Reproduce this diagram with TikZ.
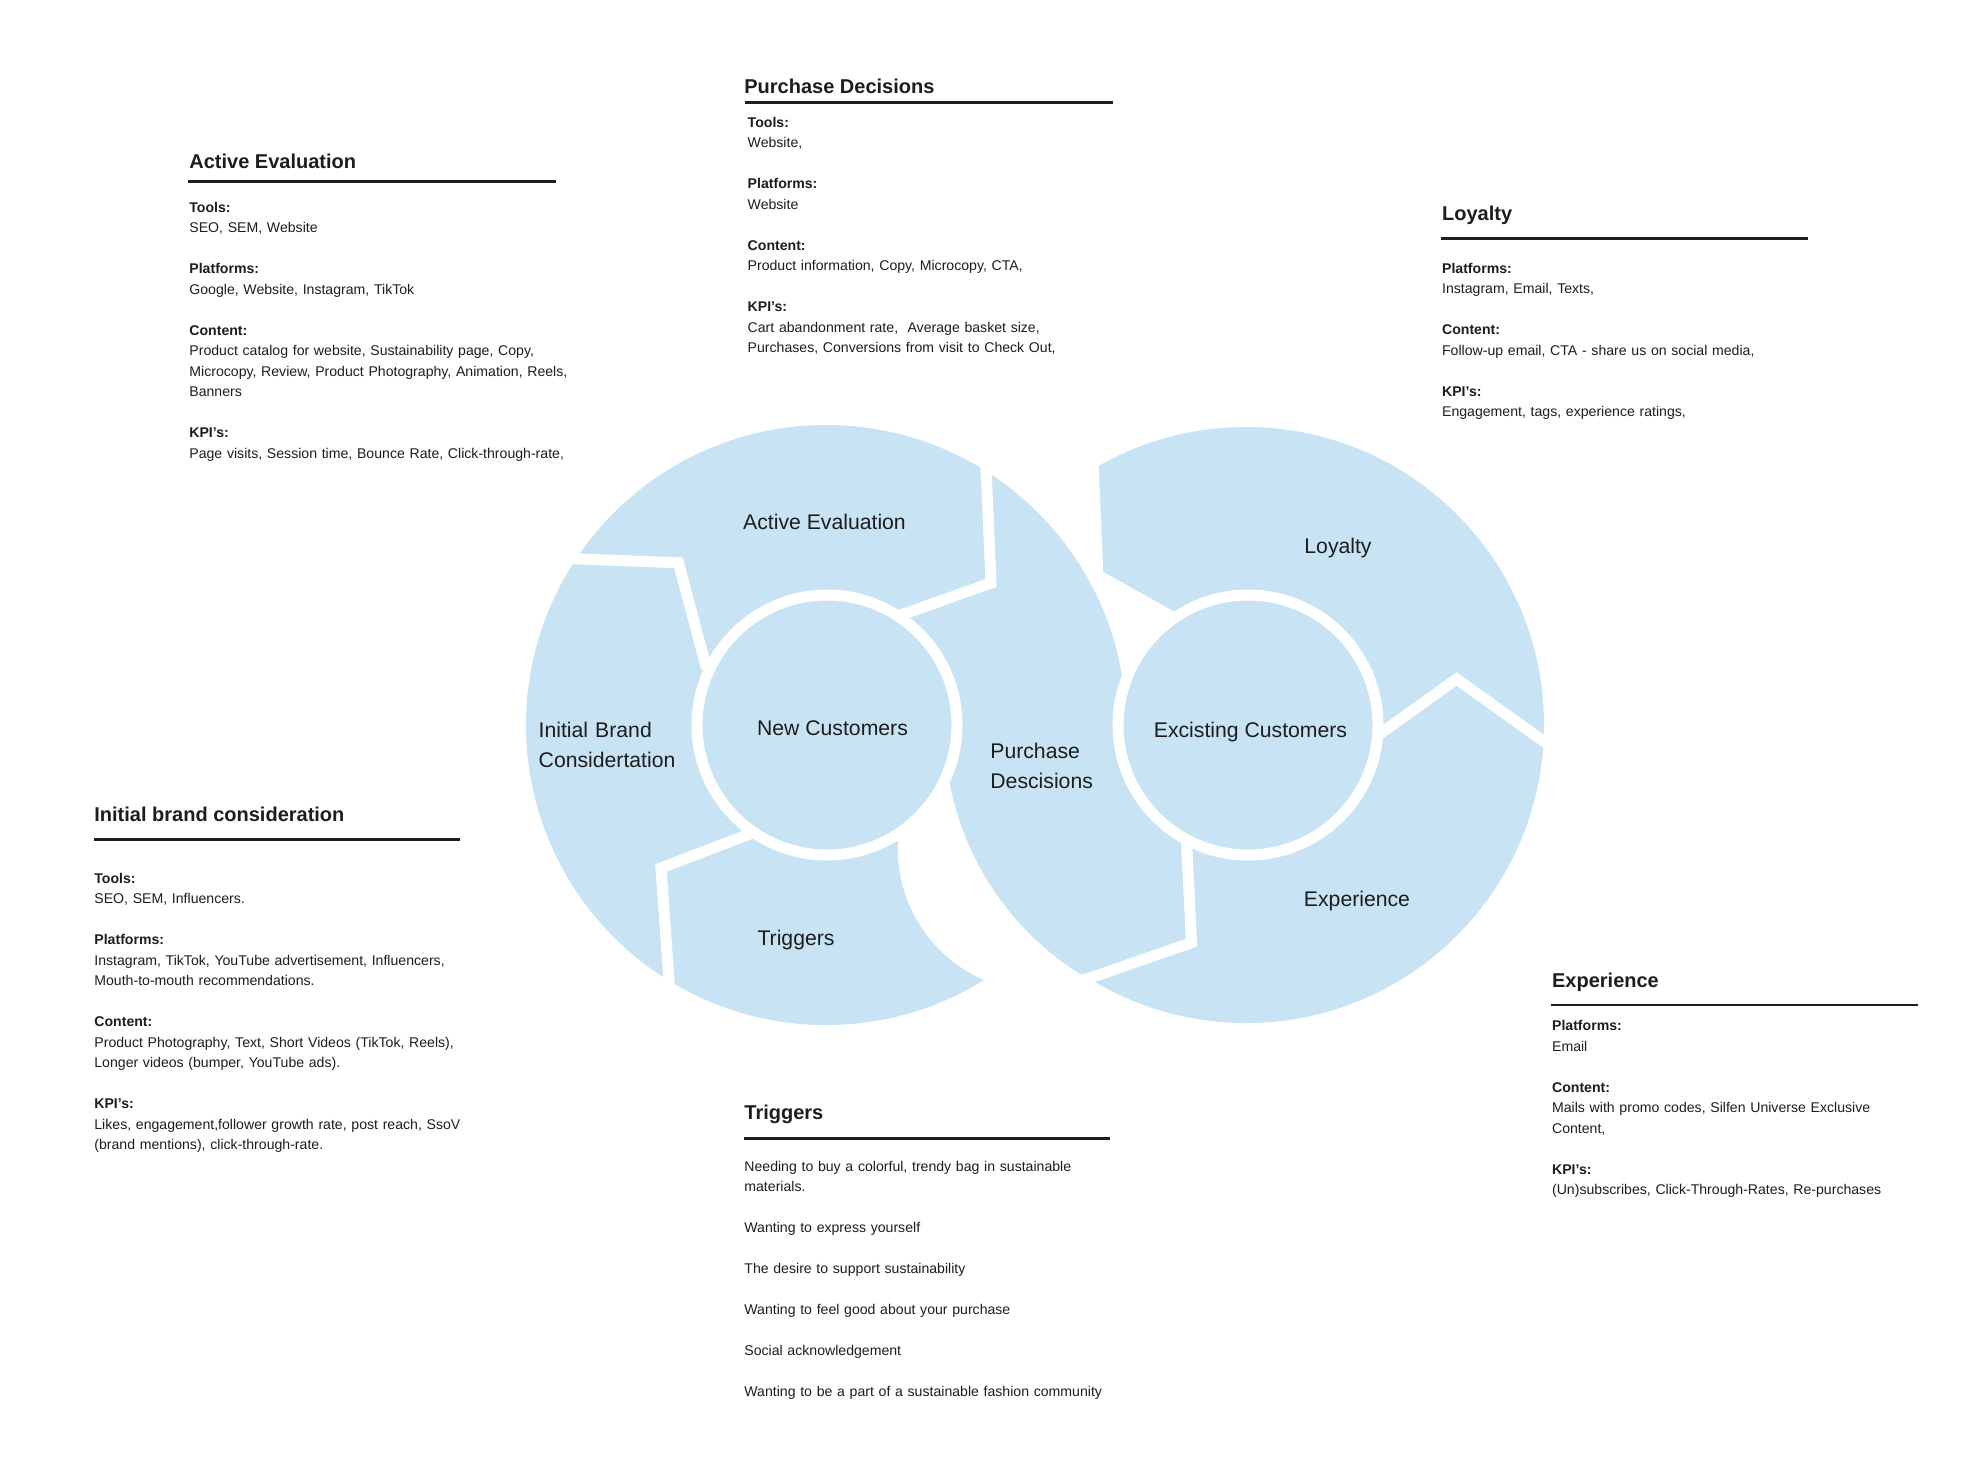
\documentclass[tikz,border=0pt]{standalone}
\usepackage{fontspec}
\setmainfont{Liberation Sans}
\definecolor{segblue}{RGB}{200,227,243}
\definecolor{ink}{RGB}{29,29,29}
\begin{document}
\begin{tikzpicture}[x=0.5pt,y=-0.5pt,
  bodytext/.style={anchor=base west, inner sep=0pt, align=left, text width=260pt, text=ink,
    font=\fontsize{7.05}{10.25}\selectfont},
  headtext/.style={anchor=base west, inner sep=0pt, text=ink, font=\fontsize{10}{12}\selectfont\bfseries},
  seglabel/.style={anchor=base, inner sep=0pt, text=ink, font=\fontsize{10.6}{15}\selectfont},
  seglabelL/.style={seglabel, anchor=base west, align=left, text width=150pt},
  headrule/.style={draw=ink, line width=1.4pt},
  gapline/.style={draw=white, line width=5.5pt, line join=miter, line cap=butt},
  ringline/.style={draw=white, line width=5.5pt},
]
\fill[white] (0,0) rectangle (1970,1479);
\useasboundingbox (0,0) rectangle (1970,1479);

\coordinate (Lc) at (826,725);
\coordinate (Rc) at (1246,725);
\coordinate (Li) at (827,725);
\coordinate (Ri) at (1248,725);

% base discs
\fill[segblue] (Rc) circle[radius=149pt];
% white area left of Loyalty, outside left disc
\fill[white] (1098.5,400) -- (1098.5,463) -- (1103.3,572) -- (1172.5,610.6) -- (Rc) -- (1000,725) -- (1000,400) -- cycle;
\fill[segblue] (Lc) circle[radius=150pt];

% lower-left edge of Purchase Descisions (arc)
\fill[segblue] plot[domain=174:122.2, samples=40] ({1235.3+291*cos(\x)},{728.2+291*sin(\x)})
  -- (1120,900) -- (1000,780) -- cycle;

% white crescent between Triggers and Purchase Descisions
\fill[white] plot[domain=188:110, samples=40] ({1041.3+143.5*cos(\x)},{848.5+143.5*sin(\x)})
  -- (1070,992)
  -- plot[domain=122.2:174, samples=40] ({1235.3+291*cos(\x)},{728.2+291*sin(\x)})
  -- cycle;

% inner discs and rings
\fill[segblue] (Li) circle[radius=62.25pt];
\fill[segblue] (Ri) circle[radius=62.25pt];
\draw[ringline] (Li) circle[radius=65pt];
\draw[ringline] (Ri) circle[radius=65pt];

% gaps between segments
\draw[gapline] (555,558) -- (678.5,562.8) -- (706.5,668.4);
\draw[gapline] (985.5,455) -- (991,583) -- (901,615);
\draw[gapline] (750.7,833.6) -- (661,868) -- (670,995);
\draw[gapline] (1377.6,735.5) -- (1456.6,679) -- (1554,748.7);
\draw[gapline] (1186.55,842.7) -- (1191.5,942.7) -- (1072.8,983.9);

% segment labels
\node[seglabel] (lae) at (824.5,529.5) {Active Evaluation};
\node[seglabel] (lnc) at (832.5,735.3) {New Customers};
\node[seglabelL] (lib) at (538.3,737.5) {Initial Brand\\Considertation};
\node[seglabelL] (lpd) at (990,758.5) {Purchase\\Descisions};
\node[seglabel] (ltr) at (796,945.5) {Triggers};
\node[seglabel] (lly) at (1338,553.5) {Loyalty};
\node[seglabel] (lec) at (1250.5,737.4) {Excisting Customers};
\node[seglabel] (lex) at (1357,906.3) {Experience};

% Active Evaluation block
\node[headtext] (hae) at (189,168.5) {Active Evaluation};
\draw[headrule] (188,181.7) -- (556,181.7);
\node[bodytext] (bae) at (189,212.3) {\textbf{Tools:}\\
SEO, SEM, Website\\[10.25pt]
\textbf{Platforms:}\\
Google, Website, Instagram, TikTok\\[10.25pt]
\textbf{Content:}\\
Product catalog for website, Sustainability page, Copy,\\
Microcopy, Review, Product Photography, Animation, Reels,\\
Banners\\[10.25pt]
\textbf{KPI’s:}\\
Page visits, Session time, Bounce Rate, Click-through-rate,};

% Purchase Decisions block
\node[headtext] (hpd) at (744,93) {Purchase Decisions};
\draw[headrule] (745,102.3) -- (1113,102.3);
\node[bodytext] (bpd) at (747.3,127.3) {\textbf{Tools:}\\
Website,\\[10.25pt]
\textbf{Platforms:}\\
Website\\[10.25pt]
\textbf{Content:}\\
Product information, Copy, Microcopy, CTA,\\[10.25pt]
\textbf{KPI’s:}\\
Cart abandonment rate, \ Average basket size,\\
Purchases, Conversions from visit to Check Out,};

% Loyalty block
\node[headtext] (hly) at (1441.7,220.3) {Loyalty};
\draw[headrule] (1441,238.3) -- (1808,238.3);
\node[bodytext] (bly) at (1441.7,273.3) {\textbf{Platforms:}\\
Instagram, Email, Texts,\\[10.25pt]
\textbf{Content:}\\
Follow-up email, CTA - share us on social media,\\[10.25pt]
\textbf{KPI’s:}\\
Engagement, tags, experience ratings,};

% Initial brand consideration block
\node[headtext] (hib) at (94,821) {Initial brand consideration};
\draw[headrule] (94,839.3) -- (460,839.3);
\node[bodytext] (bib) at (94,883.3) {\textbf{Tools:}\\
SEO, SEM, Influencers.\\[10.25pt]
\textbf{Platforms:}\\
Instagram, TikTok, YouTube advertisement, Influencers,\\
Mouth-to-mouth recommendations.\\[10.25pt]
\textbf{Content:}\\
Product Photography, Text, Short Videos (TikTok, Reels),\\
Longer videos (bumper, YouTube ads).\\[10.25pt]
\textbf{KPI’s:}\\
Likes, engagement,follower growth rate, post reach, SsoV\\
(brand mentions), click-through-rate.};

% Triggers block
\node[headtext] (htr) at (744,1119.7) {Triggers};
\draw[headrule] (744,1138.3) -- (1110,1138.3);
\node[bodytext] (btr) at (744,1171) {Needing to buy a colorful, trendy bag in sustainable\\
materials.\\[10.25pt]
Wanting to express yourself\\[10.25pt]
The desire to support sustainability\\[10.25pt]
Wanting to feel good about your purchase\\[10.25pt]
Social acknowledgement\\[10.25pt]
Wanting to be a part of a sustainable fashion community};

% Experience block
\node[headtext] (hex) at (1551.7,987.7) {Experience};
\draw[headrule] (1551,1005) -- (1918,1005);
\node[bodytext] (bex) at (1551.7,1030.7) {\textbf{Platforms:}\\
Email\\[10.25pt]
\textbf{Content:}\\
Mails with promo codes, Silfen Universe Exclusive\\
Content,\\[10.25pt]
\textbf{KPI’s:}\\
(Un)subscribes, Click-Through-Rates, Re-purchases};
\end{tikzpicture}
\end{document}
